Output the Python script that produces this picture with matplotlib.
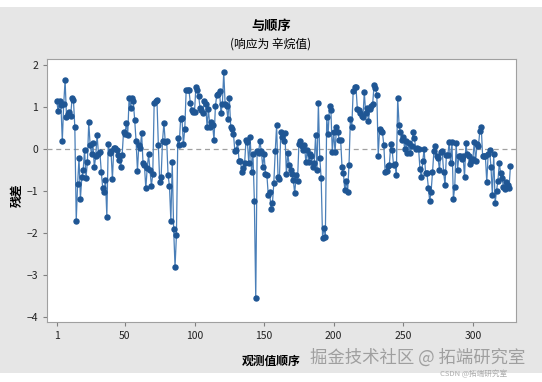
import numpy as np
import matplotlib
matplotlib.use("Agg")
import matplotlib.pyplot as plt
from matplotlib.patches import Rectangle

plt.rcParams['font.family'] = ['Noto Sans CJK SC', 'DejaVu Sans']

# 残差（按观测顺序，从图上读取）
resid_1 = [1.14, 0.9, 1.14, 1.05, 0.19, 1.06, 1.64, 0.77, 0.83, 0.87,
           0.79, 1.2, 1.17, 0.51, -1.71, -0.84, -0.21, -1.19, -0.68, -0.5,
           -0.02, -0.7, -0.32, 0.63, 0.1, -0.13, 0.13, -0.44, -0.18, 0.33,
           -0.13, -0.08, -0.54, -0.92, -1.02, -0.74, -1.61, 0.11, -0.1, -0.06,
           -0.72, 0.02]
resid_2 = [0.03, -0.02, -0.14, -0.26, -0.42, -0.14, 0.4, 0.35, 0.61, 0.33,
           1.22, 0.97, 1.21, 1.13, 0.69, 0.19, -0.52, 0.1, 0.02,
           0.37, -0.34, -0.38, -0.94, -0.46, -0.13, -0.5, -0.88, -0.6,
           1.09, 1.14, 1.17, 0.1, -0.79, -0.68, 0.19, 0.61, 0.16, 0.19,
           -0.63, -0.88, -1.71, -0.32, -1.9, -2.81, -2.06, 0.27, 0.1, 0.71,
           0.73, 0.11, 0.48, 1.4]
resid_3 = [1.4, 1.4, 1.09, 0.93, 0.89, 0.89, 1.48, 1.4, 1.25, 0.97,
           0.93, 0.85, 1.14, 1.06, 0.53, 0.95, 0.53, 0.65, 0.57, 0.21,
           1.01, 1.29, 1.3, 1.37, 0.85, 1.06, 1.83, 1.06, 1.01, 0.71,
           1.22, 0.53, 0.48, 0.35, -0.06, -0.02, 0.16, -0.29, -0.29, -0.56,
           -0.46, -0.34, 0.21, 0.16, -0.34, 0.29, -0.56, -0.13, -1.24, -3.56,
           -0.06]
resid_4 = [-0.1, 0.19, -0.06, -0.42, -0.13, -0.6, -0.62, -1.1, -1.02, -1.44,
           -1.29, -0.8, -0.05, 0.56, -0.66, -0.71, 0.41, 0.29, 0.19,
           0.37, -0.6, -0.1, -0.38, -0.5, -0.6, -0.75, -1.06, -0.63,
           -0.76, 0.11, 0.19, 0.06, -0.02, 0.1, -0.32, -0.02, -0.32, -0.13,
           -0.18, -0.42, -0.34, 0.32, -0.5, 1.09, -0.21, -0.7, -2.11, -1.89,
           -2.09]
resid_5 = [0.75, 0.35, 1.03, 0.93, -0.08, 0.4, -0.08, 0.51, 0.41, 0.21,
           0.21, -0.44, -0.58, -0.98, -0.76, -1.02, -0.38, 0.71, 0.51,
           1.37, 1.48, 1.48, 0.95, 0.93, 0.85, 0.79, 0.75, 1.35, 0.85,
           0.97, 0.67, 0.95, 1.01, 1.06, 1.52, 1.46, 1.29, -0.16,
           0.48, 0.43, 0.4, 0.1, -0.56, -0.52, -0.4, -0.38, 0.11, -0.02,
           -0.38, -0.37, -0.63]
resid_6 = [1.22, 0.56, 0.4, 0.21, 0.29, 0, 0.19, -0.1, 0.13, -0.1,
           0.06, 0.4, 0.25, 0, 0.03, 0, -0.48, -0.68, -0.29, 0,
           -0.58, -0.58, -0.92, -1.24, -1.02, -0.56, -0.06, 0.08, -0.18, -0.22,
           -0.5, -0.08, -0.06, -0.56, -0.86, -0.14, -0.14, 0.16, -0.34,
           0.16, -1.19, -0.9, 0.13, -0.5, -0.16, -0.16, -0.24, -0.16, -0.68]
resid_7 = [0.13, -0.13, -0.18, -0.37, -0.29, -0.24, 0.16, -0.29, 0.11, 0.06,
           0.43, 0.53, -0.16, -0.16, -0.18, -0.79, -0.13, -0.02, -0.42, -1.1,
           -0.13, -1.29, -1.0, -0.76, -0.34, -0.58, -0.7, -0.9, -0.95, -0.78,
           -0.87, -0.94, -0.4]

resid = resid_1 + resid_2 + resid_3 + resid_4 + resid_5 + resid_6 + resid_7
order = np.arange(1, len(resid) + 1)

x_ticks = [1, 50, 100, 150, 200, 250, 300]
y_ticks = [-4, -3, -2, -1, 0, 1, 2]

fig = plt.figure(figsize=(5.42, 3.82), dpi=100, facecolor='white')
# 灰色背景（截图上下留有白边）
fig.patches.append(Rectangle((0, 9 / 382), 1, 1 - 16 / 382, transform=fig.transFigure,
                             facecolor='#e6e6e6', edgecolor='none', zorder=-10))

ax = fig.add_axes([47 / 542, 1 - 322 / 382, (516 - 47) / 542, (322 - 59) / 382])
ax.set_facecolor('white')

ax.axhline(0, color='#a0a0a0', linestyle=(0, (4, 3)), linewidth=0.9, zorder=1)
ax.plot(order, resid, color='#4a7fb8', linewidth=0.9, zorder=2,
        marker='o', markersize=3.6, markerfacecolor='#1f5694', markeredgecolor='#1f5694')

ax.set_xlim(-6, 331)
ax.set_ylim(-4.12, 2.14)
ax.set_xticks(x_ticks)
ax.set_yticks(y_ticks)
ax.tick_params(labelsize=7.5, length=3, color='#808080', labelcolor='#222222')
for s in ax.spines.values():
    s.set_color('#a0a0a0')
    s.set_linewidth(0.8)

ax.set_xlabel('观测值顺序', fontsize=8.5, fontweight='bold')
ax.set_ylabel('残差', fontsize=8.5, fontweight='bold')
ax.xaxis.set_label_coords((271 - 47) / 469, -(355 - 322) / 263)
ax.yaxis.set_label_coords(-(47 - 24) / 469, (322 - 195) / 263)

fig.text(0.5, 1 - 26 / 382, '与顺序', ha='center', va='center', fontsize=9.5, fontweight='bold')
fig.text(0.5, 1 - 44 / 382, '(响应为 辛烷值)', ha='center', va='center', fontsize=8.5)

# 水印
fig.text(310 / 542, 1 - 358 / 382, '掘金技术社区 @ 拓端研究室', ha='left', va='center',
         fontsize=12.5, color='#666666', alpha=0.55)
fig.text(440 / 542, 1 - 374 / 382, 'CSDN @拓端研究室', ha='left', va='center',
         fontsize=5.5, color='#999999', alpha=0.8)

fig.savefig('out.png', dpi=100, facecolor=fig.get_facecolor())
